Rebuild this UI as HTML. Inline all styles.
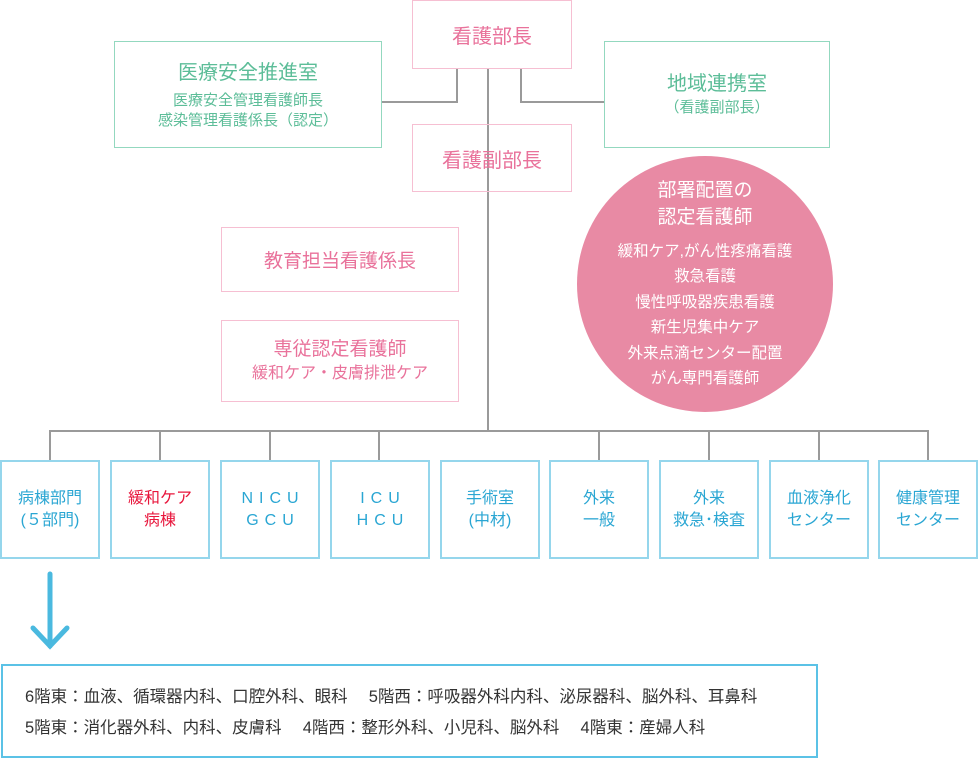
<!DOCTYPE html>
<html><head><meta charset="utf-8"><style>
body{margin:0;width:978px;height:759px;background:#fff;position:relative;overflow:hidden;font-family:"Liberation Sans","Noto Sans CJK JP",sans-serif}
.b{position:absolute;box-sizing:border-box;display:flex;flex-direction:column;align-items:center;justify-content:center;text-align:center}
.p{border:1.5px solid #f6bfd2;color:#e9729b}
.g{border:1.5px solid #93d8bf;color:#5cbd98}
.c{border:2px solid #95d6ec;color:#2aa6d3;font-size:16px;line-height:22px;top:460px;width:100px;height:99px}
.l{position:absolute;background:#9a9a9a}
</style></head><body>
<div class="l" style="left:487px;top:68px;width:2px;height:364px"></div>
<div class="l" style="left:456px;top:68px;width:2px;height:35px"></div>
<div class="l" style="left:381px;top:101px;width:77px;height:2px"></div>
<div class="l" style="left:520px;top:68px;width:2px;height:35px"></div>
<div class="l" style="left:520px;top:101px;width:85px;height:2px"></div>
<div class="l" style="left:49px;top:430px;width:880px;height:2px"></div>
<div class="l" style="left:49px;top:430px;width:2px;height:30px"></div>
<div class="l" style="left:159px;top:430px;width:2px;height:30px"></div>
<div class="l" style="left:269px;top:430px;width:2px;height:30px"></div>
<div class="l" style="left:378px;top:430px;width:2px;height:30px"></div>
<div class="l" style="left:598px;top:430px;width:2px;height:30px"></div>
<div class="l" style="left:708px;top:430px;width:2px;height:30px"></div>
<div class="l" style="left:818px;top:430px;width:2px;height:30px"></div>
<div class="l" style="left:927px;top:430px;width:2px;height:30px"></div>

<div class="b p" style="left:412px;top:0;width:160px;height:69px;font-size:20px">看護部長</div>
<div class="b p" style="left:412px;top:124px;width:160px;height:68px;font-size:20px">看護副部長</div>
<div class="b g" style="left:114px;top:41px;width:268px;height:107px"><div style="font-size:20px;line-height:28px;margin-bottom:4px">医療安全推進室</div><div style="font-size:15px;line-height:20px">医療安全管理看護師長<br>感染管理看護係長（認定）</div></div>
<div class="b g" style="left:604px;top:41px;width:226px;height:107px"><div style="font-size:20px;line-height:26px">地域連携室</div><div style="font-size:15px;line-height:22px">（看護副部長）</div></div>
<div class="b p" style="left:221px;top:227px;width:238px;height:65px;font-size:19px">教育担当看護係長</div>
<div class="b p" style="left:221px;top:320px;width:238px;height:82px"><div style="font-size:19px;line-height:26px">専従認定看護師</div><div style="font-size:16px;line-height:22px">緩和ケア・皮膚排泄ケア</div></div>

<div class="b" style="left:577px;top:156px;width:256px;height:256px;border-radius:50%;background:#e88aa4;color:#fff">
<div style="font-size:19px;line-height:27px;margin-top:0px;margin-bottom:8px">部署配置の<br>認定看護師</div>
<div style="font-size:15.5px;line-height:25.5px">緩和ケア,がん性疼痛看護<br>救急看護<br>慢性呼吸器疾患看護<br>新生児集中ケア<br>外来点滴センター配置<br>がん専門看護師</div></div>

<div class="b c" style="left:0">病棟部門<br>(５部門)</div>
<div class="b c" style="left:110px;color:#e8163c">緩和ケア<br>病棟</div>
<div class="b c" style="left:220px;letter-spacing:6px;padding-left:6px">NICU<br>GCU</div>
<div class="b c" style="left:330px;letter-spacing:6px;padding-left:6px">ICU<br>HCU</div>
<div class="b c" style="left:440px">手術室<br>(中材)</div>
<div class="b c" style="left:549px">外来<br>一般</div>
<div class="b c" style="left:659px">外来<br>救急･検査</div>
<div class="b c" style="left:769px">血液浄化<br>センター</div>
<div class="b c" style="left:878px">健康管理<br>センター</div>

<svg style="position:absolute;left:30px;top:570px" width="40" height="80"><g stroke="#4ab9df" stroke-width="5" stroke-linecap="round" fill="none"><line x1="20" y1="4" x2="20" y2="76"/><polyline points="3,58 20,76 37,58"/></g></svg>

<div style="position:absolute;left:1px;top:664px;width:817px;height:94px;box-sizing:border-box;border:2px solid #5bc2e6;padding:16px 0 0 22px;font-size:16.5px;line-height:31px;color:#333;white-space:pre">6階東：血液、循環器内科、口腔外科、眼科　 5階西：呼吸器外科内科、泌尿器科、脳外科、耳鼻科
5階東：消化器外科、内科、皮膚科　 4階西：整形外科、小児科、脳外科　 4階東：産婦人科</div>
</body></html>
